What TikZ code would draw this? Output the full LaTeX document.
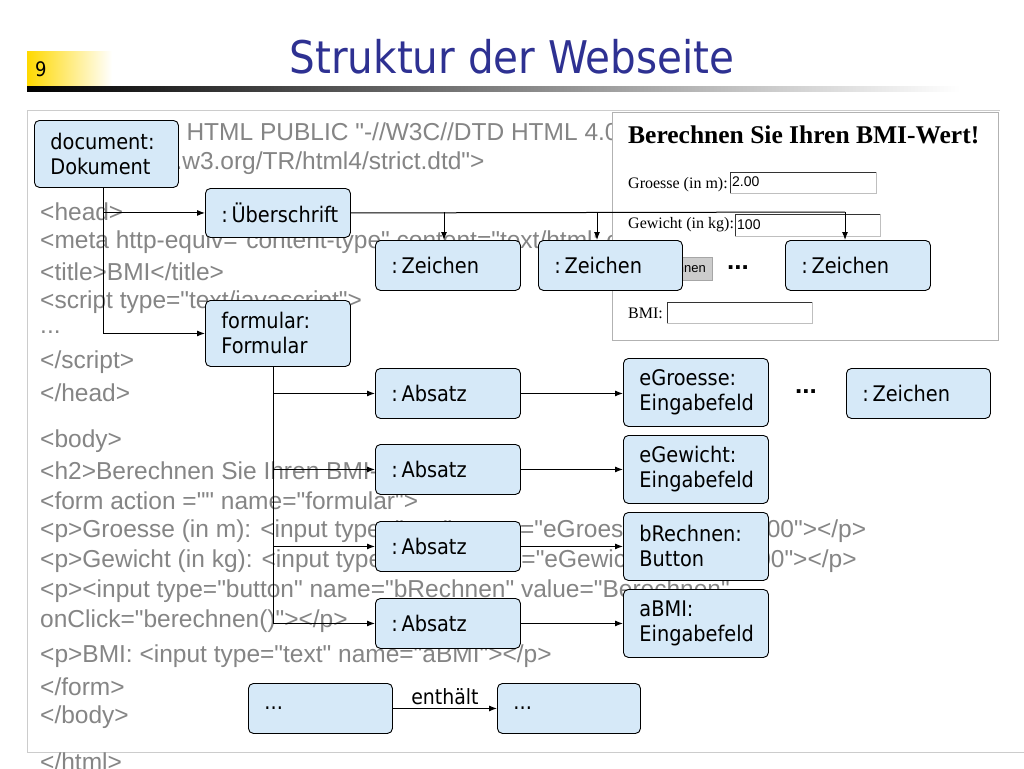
\documentclass[tikz,border=0pt]{standalone}
\usepackage{fontspec}
\setmainfont{Liberation Sans}
\newfontfamily\tah{DejaVu Sans Condensed}
\newfontfamily\ser{Liberation Serif}
\usetikzlibrary{arrows.meta}
\definecolor{nodeblue}{HTML}{D6E9F8}
\definecolor{titleblue}{HTML}{2E3192}
\definecolor{codegray}{HTML}{858585}
\def\q{\textquotedbl}
\tikzset{
  box/.style={draw=black, fill=nodeblue, rounded corners=5pt, line width=0.9pt, anchor=north west,
    inner xsep=16pt, inner ysep=0pt, align=left, font=\tah\fontsize{21.5}{25}\selectfont},
  conn/.style={line width=1pt, -{Latex[length=8pt,width=6pt]}},
  plain/.style={line width=1pt},
  code/.style={anchor=west, inner sep=0pt, text=codegray, font=\fontsize{24.5}{26}\selectfont},
  shot/.style={anchor=west, inner sep=0pt, font=\ser\fontsize{16}{18}\selectfont},
  inputbox/.style={draw=gray!50, fill=white, line width=0.6pt}
}
\newcommand{\mybox}[6]{\node[box, minimum width=#4pt, minimum height=#5pt, text width=#4pt-32pt] (#1) at (#2,#3) {#6};}
\begin{document}
\begin{tikzpicture}[x=1pt,y=-1pt]
\useasboundingbox (0,0) rectangle (1024,768);
\fill[white] (0,0) rectangle (1024,768);
% header
\shade[left color=yellow!70!orange, right color=white] (27,52) rectangle (112,86);
\node[anchor=west, inner sep=0pt, font=\tah\fontsize{20}{22}\selectfont] (pnum) at (35,69) {9};
\node[inner sep=0pt, text=titleblue, font=\tah\fontsize{45}{48}\selectfont] (title) at (512,57) {Struktur der Webseite};
\shade[left color=black, right color=white] (27,86) rectangle (960,91);
% frame
\draw[gray!40, line width=1pt] (27,110) -- (1024,110) (27,110) -- (27,752) -- (1024,752);
% code
\foreach \t/\y in {
 {<!DOCTYPE HTML PUBLIC \q-//W3C//DTD HTML 4.01//EN\q}/132,
 {\ \ \q http://www.w3.org/TR/html4/strict.dtd\q>}/163,
 {<head>}/212,
 {<meta http-equiv=\q content-type\q{} content=\q text/html; charset=ISO-8859-1\q>}/242,
 {<title>BMI</title>}/272,
 {<script type=\q text/javascript\q>}/302,
 {...}/332,
 {</script>}/362,
 {</head>}/393,
 {<body>}/441,
 {<h2>Berechnen Sie Ihren BMI-Wert!</h2>}/471,
 {<form action =\q\q{} name=\q formular\q>}/501,
 {<p>Groesse (in m): <input type=\q text\q{} name=\q eGroesse\q{} value=\q 2.00\q></p>}/531,
 {<p>Gewicht (in kg): <input type=\q text\q{} name=\q eGewicht\q{} value=\q 100\q></p>}/561,
 {<p><input type=\q button\q{} name=\q bRechnen\q{} value=\q Berechnen\q}/591,
 {onClick=\q berechnen()\q></p>}/621,
 {<p>BMI: <input type=\q text\q{} name=\q aBMI\q></p>}/656,
 {</form>}/687,
 {</body>}/717,
 {</html>}/762}
 {\node[code] at (40,\y) {\t};}
% screenshot
\fill[white] (1000,100) rectangle (1024,752);
\draw[gray!60, fill=white, line width=1pt] (612,112) rectangle (998,340);
\node[anchor=west, inner sep=0pt, font=\ser\bfseries\fontsize{25.5}{27}\selectfont] (shtitle) at (628,135) {Berechnen Sie Ihren BMI-Wert!};
\node[shot] (lg) at (628,185) {Groesse (in m):};
\draw[inputbox] (730,172) rectangle (876,193);
\draw[black!80, line width=1pt] (730,193) |- (876,172);
\node[anchor=west, inner sep=0pt, font=\fontsize{14}{15}\selectfont] (v1) at (732,182) {2.00};
\node[shot] (lw) at (628,225) {Gewicht (in kg):};
\draw[inputbox] (735,214) rectangle (880,236);
\draw[black!80, line width=1pt] (735,236) |- (880,214);
\node[anchor=west, inner sep=0pt, font=\fontsize{14}{15}\selectfont] (v2) at (737,225) {100};
\draw[fill=gray!40, draw=gray!70] (620,257) rectangle (712,280);
\node[anchor=east, inner sep=0pt, font=\fontsize{13}{14}\selectfont] (btn) at (706,268) {Berechnen};
\node[shot] (lb) at (628,313) {BMI:};
\draw[inputbox] (667,302) rectangle (812,323);
\draw[black!80, line width=1pt] (667,323) |- (812,302);
% nodes
\mybox{doc}{34}{120}{144}{67}{document:\\Dokument}
\mybox{ueb}{205}{188}{145}{49}{:\,Überschrift}
\mybox{z1}{375}{240}{145}{50}{:\,Zeichen}
\mybox{z2}{538}{240}{144}{50}{:\,Zeichen}
\mybox{z3}{785}{240}{145}{50}{:\,Zeichen}
\mybox{form}{205}{300}{145}{66}{formular:\\Formular}
\mybox{a1}{375}{368}{145}{50}{:\,Absatz}
\mybox{egr}{623}{358}{145}{68}{eGroesse:\\Eingabefeld}
\mybox{z4}{846}{368}{144}{50}{:\,Zeichen}
\mybox{a2}{375}{444}{145}{50}{:\,Absatz}
\mybox{egw}{623}{435}{145}{68}{eGewicht:\\Eingabefeld}
\mybox{a3}{375}{521}{145}{50}{:\,Absatz}
\mybox{bre}{623}{512}{145}{68}{bRechnen:\\Button}
\mybox{a4}{375}{598}{145}{50}{:\,Absatz}
\mybox{abmi}{623}{589}{145}{68}{aBMI:\\Eingabefeld}
\mybox{d1}{248}{683}{144}{50}{...}
\mybox{d2}{497}{683}{143}{50}{...}
\node[inner sep=0pt, font=\bfseries\fontsize{26}{26}\selectfont] (dots1) at (738,268) {...};
\node[inner sep=0pt, font=\bfseries\fontsize{26}{26}\selectfont] (dots2) at (806,392) {...};
% connectors
\coordinate (dA) at (103,187);
\draw[conn] (dA) |- (ueb.west);
\draw[conn] (dA) |- (form.west);
\coordinate (uE) at (845,212);
\coordinate (u1) at (444,212);
\coordinate (u2) at (597,212);
\draw[plain] (ueb.east) -- (uE);
\draw[conn] (u1) -- (u1 |- z1.north);
\draw[conn] (u2) -- (u2 |- z2.north);
\draw[conn] (uE) -- (uE |- z3.north);
\coordinate (fA) at (273,366);
\draw[conn] (fA) |- (a1.west);
\draw[conn] (fA) |- (a2.west);
\draw[conn] (fA) |- (a3.west);
\draw[conn] (fA) |- (a4.west);
\draw[conn] (a1.east) -- (egr.west |- a1.east);
\draw[conn] (a2.east) -- (egw.west |- a2.east);
\draw[conn] (a3.east) -- (bre.west |- a3.east);
\draw[conn] (a4.east) -- (abmi.west |- a4.east);
\draw[conn] (d1.east) -- node[above=1pt, inner sep=2pt, font=\tah\fontsize{21}{23}\selectfont] {enthält} (d2.west);
\end{tikzpicture}
\end{document}
